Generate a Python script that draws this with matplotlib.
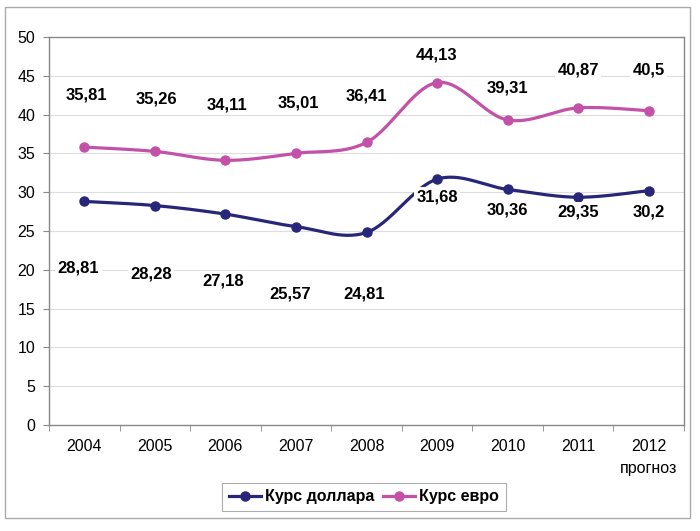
import numpy as np
import matplotlib
matplotlib.use("Agg")
import matplotlib.pyplot as plt
from matplotlib.lines import Line2D
from matplotlib.patches import Rectangle

years = ["2004", "2005", "2006", "2007", "2008", "2009", "2010", "2011", "2012\nпрогноз"]
usd = [28.81, 28.28, 27.18, 25.57, 24.81, 31.68, 30.36, 29.35, 30.2]
eur = [35.81, 35.26, 34.11, 35.01, 36.41, 44.13, 39.31, 40.87, 40.5]
usd_labels = ["28,81", "28,28", "27,18", "25,57", "24,81", "31,68", "30,36", "29,35", "30,2"]
eur_labels = ["35,81", "35,26", "34,11", "35,01", "36,41", "44,13", "39,31", "40,87", "40,5"]
series_names = ["Курс доллара", "Курс евро"]

# label offsets in pixels (dx, dy; positive dy = up)
usd_off = [(-6, -67), (-4, -68), (-2, -67), (-6, -67), (-2, -62), (0, -18), (0, -21), (0, -15), (0, -21)]
eur_off = [(2, 52), (2, 52), (2, 55), (2, 50), (0, 46), (0, 28), (0, 32), (0, 38), (0, 41)]

FONT = ["Liberation Sans", "DejaVu Sans"]
plt.rcParams["font.family"] = FONT

C_USD = "#27267a"
C_EUR = "#c451a8"

fig = plt.figure(figsize=(7.0, 5.31), dpi=100)
W, H = 700, 531
ax = fig.add_axes([49 / W, 1 - 425 / H, (684 - 49) / W, (425 - 37) / H])

n = len(years)
x = np.arange(n)


def smooth(xs, ys, m=30):
    xs = np.asarray(xs, float)
    ys = np.asarray(ys, float)
    P = np.column_stack([xs, ys])
    out = []
    for i in range(len(P) - 1):
        p0 = P[i - 1] if i > 0 else P[i]
        p1 = P[i]
        p2 = P[i + 1]
        p3 = P[i + 2] if i + 2 < len(P) else P[i + 1]
        b1 = p1 + (p2 - p0) / 6.0
        b2 = p2 - (p3 - p1) / 6.0
        t = np.linspace(0, 1, m)[:, None]
        seg = ((1 - t) ** 3) * p1 + 3 * ((1 - t) ** 2) * t * b1 + 3 * (1 - t) * t ** 2 * b2 + t ** 3 * p2
        out.append(seg if i == 0 else seg[1:])
    pts = np.vstack(out)
    return pts[:, 0], pts[:, 1]


for vals, col in [(usd, C_USD), (eur, C_EUR)]:
    sx, sy = smooth(x, vals)
    ax.plot(sx, sy, color=col, lw=2.3, zorder=3, solid_capstyle="round")
    ax.plot(x, vals, "o", color=col, ms=6.5, zorder=4)

for vals, labs, offs in [(usd, usd_labels, usd_off), (eur, eur_labels, eur_off)]:
    for i, (v, lab) in enumerate(zip(vals, labs)):
        ax.annotate(lab, (x[i], v), xytext=(offs[i][0] * 0.72, offs[i][1] * 0.72),
                    textcoords="offset points", ha="center", va="center",
                    fontsize=12, fontweight="bold", color="black", zorder=6,
                    bbox=dict(boxstyle="square,pad=0.15", fc="white", ec="none"))

ax.set_xlim(-0.5, n - 0.5)
ax.set_ylim(0, 50)
ax.set_yticks(np.arange(0, 51, 5))
ax.set_xticks(x)
ax.set_xticklabels(years, linespacing=1.6)
ax.set_xticks(np.arange(-0.5, n, 1.0), minor=True)
ax.tick_params(axis="x", which="major", length=0, pad=10, labelsize=11.5)
ax.tick_params(axis="x", which="minor", length=4, color="#888888")
ax.tick_params(axis="y", length=4, color="#888888", labelsize=11.5, pad=6)
ax.grid(axis="y", color="#dddddd", lw=0.8)
ax.set_axisbelow(True)
for s in ax.spines.values():
    s.set_color("#888888")
    s.set_linewidth(1.0)

handles = [Line2D([], [], color=C_USD, lw=2.3, marker="o", ms=6.5),
           Line2D([], [], color=C_EUR, lw=2.3, marker="o", ms=6.5)]
leg = fig.legend(handles, series_names, loc="center", bbox_to_anchor=(364 / W, 1 - 497 / H),
                 ncol=2, frameon=True, fancybox=False, edgecolor="#999999",
                 prop={"family": FONT, "weight": "bold", "size": 11.5},
                 handlelength=2.0, handletextpad=0.3, columnspacing=0.5,
                 borderpad=0.4)
leg.get_frame().set_linewidth(0.8)

fig.patches.append(Rectangle((5 / W, 1 - 518 / H), (690 - 5) / W, (518 - 7) / H,
                             transform=fig.transFigure, fill=False,
                             edgecolor="#aaaaaa", lw=1.0))

fig.savefig("out.png", dpi=100)
